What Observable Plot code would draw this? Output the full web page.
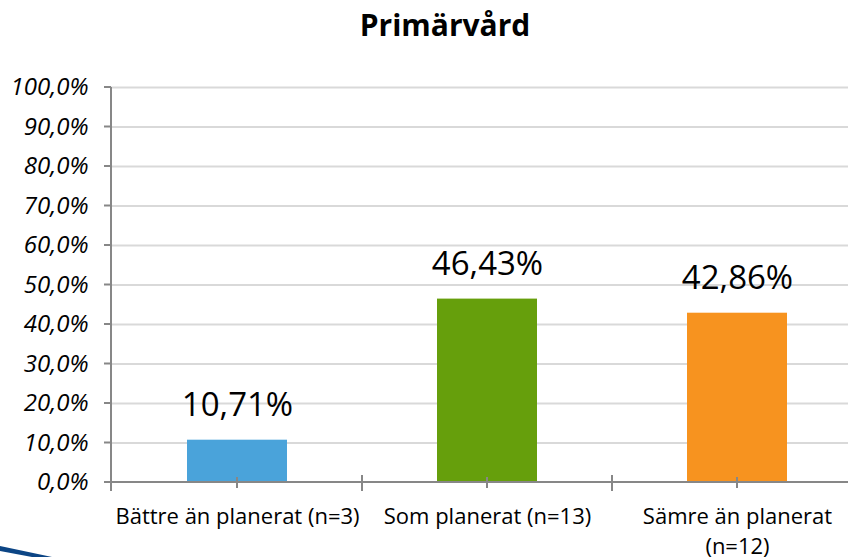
<!DOCTYPE html>
<html><head><meta charset="utf-8">
<script src="https://cdn.jsdelivr.net/npm/d3@7"></script>
<script src="https://cdn.jsdelivr.net/npm/@observablehq/plot@0.6"></script>
<style>
html,body{margin:0;padding:0;background:#fff;}
body{width:848px;height:557px;overflow:hidden;position:relative;font-family:'Open Sans',sans-serif;color:#000;}
#title{width:890px;height:60px;box-sizing:border-box;padding-top:10px;text-align:center;font:bold 30px/30px 'Open Sans',sans-serif;color:#000;}
#chart{width:862px;}
#chart svg{display:block;max-width:none !important;overflow:visible;}
#swoosh{position:absolute;left:0;top:543px;}
</style></head><body>
<div id="title">Primärvård</div>
<div id="chart"></div>
<svg id="swoosh" width="60" height="14"><path d="M0,3 L52,14 L32,14 L0,8 Z" fill="#0c4585"/></svg>
<script>
const categories = ["Bättre än planerat (n=3)", "Som planerat (n=13)", "Sämre än planerat (n=12)"];
const categoryLines = [["Bättre än planerat (n=3)"], ["Som planerat (n=13)"], ["Sämre än planerat", "(n=12)"]];
const values = [10.71, 46.43, 42.86];
const valueLabels = ["10,71%", "46,43%", "42,86%"];
const barColors = ["#4aa3da", "#669f0c", "#f7931f"];
const yTicks = [0, 10, 20, 30, 40, 50, 60, 70, 80, 90, 100];
const yTickLabels = ["0,0%", "10,0%", "20,0%", "30,0%", "40,0%", "50,0%", "60,0%", "70,0%", "80,0%", "90,0%", "100,0%"];

const data = categories.map((c, i) => ({cat: c, value: values[i], label: valueLabels[i], text: categoryLines[i].join("\n")}));
const axisColor = "#878787";

function axisLines(index, scales, vals, dims) {
  const {x, y} = scales;
  const g = d3.create("svg:g").attr("stroke", axisColor).attr("stroke-width", 2).attr("fill", "none");
  const line = (x1, y1, x2, y2) => g.append("line").attr("x1", x1).attr("y1", y1).attr("x2", x2).attr("y2", y2);
  const left = dims.marginLeft, right = dims.width - dims.marginRight;
  const y0 = y(0);
  const bw = typeof x.bandwidth === "function" ? x.bandwidth() : x.bandwidth;
  const step = x(categories[1]) - x(categories[0]);
  line(left, y(yTicks[yTicks.length - 1]), left, y0 + 9);
  yTicks.forEach(t => line(left - 7, y(t), left, y(t)));
  line(left, y0, right, y0);
  categories.forEach(c => {
    const cx = x(c) + bw / 2;
    line(cx, y0 - 5, cx, y0 + 6);
    line(cx + step / 2, y0 - 7, cx + step / 2, y0 + 9);
  });
  return g.node();
}

const chart = Plot.plot({
  width: 862,
  height: 510,
  marginLeft: 111,
  marginRight: 0,
  marginTop: 27,
  marginBottom: 88,
  style: {fontFamily: "'Open Sans', sans-serif", color: "#000", background: "transparent", maxWidth: "none", overflow: "visible"},
  x: {domain: categories, paddingInner: 0.6, paddingOuter: 0.3, axis: null},
  y: {domain: [0, 100], axis: null},
  color: {domain: categories, range: barColors},
  marks: [
    Plot.gridY(yTicks.slice(1), {stroke: "#d9d9d9", strokeOpacity: 1, strokeWidth: 2}),
    Plot.barY(data, {x: "cat", y: "value", fill: "cat"}),
    Plot.text(data, {x: "cat", y: "value", text: "label", dy: -35, fontSize: 33, fill: "#000"}),
    Plot.axisY(yTicks, {tickSize: 0, tickPadding: 23, tickFormat: d => yTickLabels[yTicks.indexOf(d)], fontSize: 24, fontStyle: "italic", label: null, color: "#000"}),
    Plot.text(data, {x: "cat", y: () => 0, text: "text", lineAnchor: "top", dy: 20, lineHeight: 1.36, fontSize: 22, fill: "#000"}),
    axisLines
  ]
});
document.getElementById("chart").appendChild(chart);
</script>
</body></html>
